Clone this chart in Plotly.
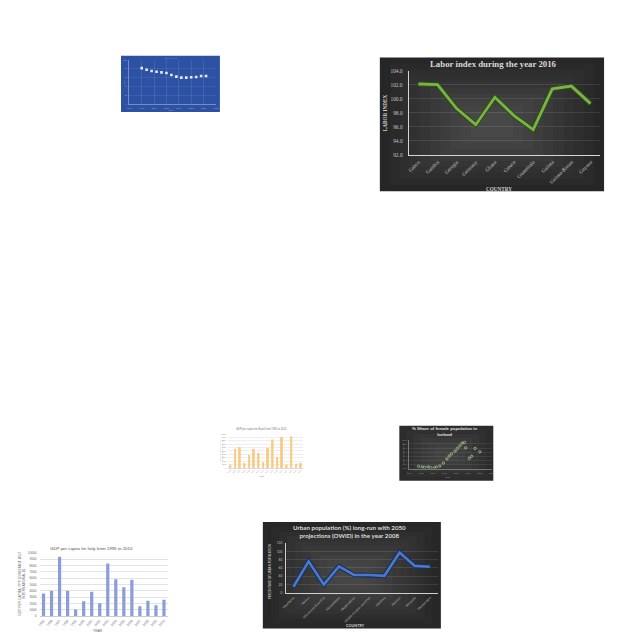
import plotly.graph_objects as go

W = H = 640

def X(a, b):
    return [a / W, b / W]

def Y(t, b):
    return [1 - b / H, 1 - t / H]

def px(x):
    return x / W

def py(y):
    return 1 - y / H

# ---------------- DATA ----------------
# Blue scatter (top-left)
blue_years = [1995, 1997, 1999, 2001, 2003, 2005, 2007, 2009, 2011, 2013, 2015, 2017, 2019, 2021]
blue_values = [81.3, 77.6, 74.7, 73.2, 71.7, 70.2, 65.8, 62.1, 59.9, 59.9, 60.6, 61.4, 63.6, 63.6]

# Labor index (top-right)
labor_countries = ["Gabon", "Gambia", "Georgia", "Germany", "Ghana", "Greece",
                   "Guatemala", "Guinea", "Guinea-Bissau", "Guyana"]
labor_index = [102.1, 102.0, 98.6, 96.3, 100.2, 97.6, 95.6, 101.4, 101.8, 99.3]

# GDP Brazil (yellow bars)
years_95_10 = [str(y) for y in range(1995, 2011)]
brazil_gdp = [970, 5630, 6120, 1460, 3880, 5630, 4370, 1650, 5920, 8350, 3200, 9030, 970, 9320, 1260, 1460]

# Iceland female share (scatter)
ice_years = [1948, 1951, 1953, 1956, 1958, 1961, 1963, 1966, 1969, 1972, 1974, 1976,
             1979, 1981, 1983, 1985, 1987, 1988, 1991, 1993, 1996, 2000]
ice_share = [48.91, 48.88, 48.86, 48.88, 48.85, 48.83, 48.88, 48.93, 49.07, 49.27, 49.41, 49.52,
             49.65, 49.78, 49.91, 50.04, 50.07, 49.81, 49.30, 49.40, 49.78, 49.62]

# GDP Italy (blue bars)
italy_gdp = [3590, 4010, 9370, 4010, 1040, 2340, 3850, 2030, 8330, 5830, 4580, 5730, 1560, 2450, 1720, 2600]

# Urban population (bottom-right)
urban_countries = ["Mauritania", "Mexico", "Micronesia (Country)", "Mozambique", "Middle Africa",
                   "Middle-income countries", "Moldova", "Monaco", "Mongolia", "Montenegro"]
urban_pct = [14.5, 76.0, 20.0, 64.0, 43.0, 43.0, 41.0, 97.6, 65.0, 63.0]

# ---------------- FIGURE ----------------
fig = go.Figure()
shapes = []
ann = []

def hexmix(c1, c2, t):
    a = [int(c1[i:i + 2], 16) for i in (1, 3, 5)]
    b = [int(c2[i:i + 2], 16) for i in (1, 3, 5)]
    m = [round(a[k] + (b[k] - a[k]) * t) for k in range(3)]
    return "#%02x%02x%02x" % tuple(m)

def panel(x0, y0, x1, y1, outer, inner, n=10):
    cx, cy = (x0 + x1) / 2, (y0 + y1) / 2
    for i in range(n):
        t = i / n
        shapes.append(dict(type="rect", xref="paper", yref="paper", layer="below",
                           x0=px(x0 + (cx - x0) * t * 0.9), x1=px(x1 - (x1 - cx) * t * 0.9),
                           y0=py(y1 - (y1 - cy) * t * 0.9), y1=py(y0 + (cy - y0) * t * 0.9),
                           line=dict(width=0), fillcolor=hexmix(outer, inner, t)))

def text(x, y, s, size, color, family="Liberation Sans", bold=False, angle=0):
    ann.append(dict(x=px(x), y=py(y), xref="paper", yref="paper", text=("<b>%s</b>" % s) if bold else s,
                    showarrow=False, textangle=angle, xanchor="center", yanchor="middle",
                    font=dict(size=size, color=color, family=family)))

# ---- Panel 1: blue scatter ----
shapes.append(dict(type="rect", xref="paper", yref="paper", layer="below",
                   x0=px(118.3), x1=px(218.3), y0=py(110), y1=py(53.3),
                   line=dict(width=0), fillcolor="#2d51a3"))
fig.add_trace(go.Scatter(x=blue_years, y=blue_values, mode="markers", xaxis="x", yaxis="y",
                         marker=dict(symbol="square", size=2.6, color="#e4ebf8"), showlegend=False))
text(168, 55.5, "Value by year", 2.2, "rgba(255,255,255,0.45)")
text(122, 80, "Value", 2.2, "rgba(255,255,255,0.45)", angle=-90)
text(168, 108.3, "Year", 2.2, "rgba(255,255,255,0.6)")

# ---- Panel 2: labor index ----
panel(380, 55, 606.7, 190, "#262626", "#4c4c4c")
fig.add_trace(go.Scatter(x=labor_countries, y=labor_index, mode="lines", xaxis="x2", yaxis="y2",
                         line=dict(color="#2c4d14", width=5), showlegend=False))
fig.add_trace(go.Scatter(x=labor_countries, y=labor_index, mode="lines", xaxis="x2", yaxis="y2",
                         line=dict(color="#7cb048", width=2.8), showlegend=False))
text(495, 61.5, "Labor index during the year 2016", 8.8, "#d9d9d9", family="Liberation Serif", bold=True)
text(500, 187.5, "COUNTRY", 5.2, "#d0d0d0", family="Liberation Serif", bold=True)
text(385.5, 111, "LABOR INDEX", 5.2, "#d0d0d0", family="Liberation Serif", bold=True, angle=-90)

# ---- Panel 3: Brazil GDP (yellow) ----
fig.add_trace(go.Bar(x=years_95_10, y=brazil_gdp, xaxis="x3", yaxis="y3",
                     marker=dict(color="#f8cb83", line=dict(width=0)), showlegend=False))
text(260, 430, "GDP per capita for Brazil from 1995 to 2010", 2.6, "#777777")
text(219, 452, "GDP PER CAPITA, PPP<br>(CONSTANT 2017 INTL $)", 1.8, "#888888", angle=-90)
text(260, 478.3, "Year", 2.4, "#777777")

# ---- Panel 4: Iceland ----
panel(399.7, 426.7, 494.7, 482.3, "#2c2c2c", "#474747", n=6)
fig.add_trace(go.Scatter(x=ice_years, y=ice_share, mode="markers", xaxis="x4", yaxis="y4",
                         marker=dict(symbol="circle-open", size=2.4, color="#b5d99a", line=dict(width=0.7)),
                         showlegend=False))
text(446, 432.5, "% Share of female population in<br>Iceland", 4.3, "#e0e0e0", bold=True)
text(448, 479.3, "Year", 2.4, "#aaaaaa")
text(403.5, 455, "% Share of female population", 1.8, "#999999", angle=-90)

# ---- Panel 5: Italy GDP ----
fig.add_trace(go.Bar(x=years_95_10, y=italy_gdp, xaxis="x5", yaxis="y5",
                     marker=dict(color="#8b9dd8", line=dict(width=0)), showlegend=False))
text(88, 550.3, "GDP per capita for Italy from 1995 to 2010", 4.4, "#555555")
text(18, 586.5, "GDP PER CAPITA, PPP (CONSTANT 2017<br>INTERNATIONAL $)", 3.3, "#666666", angle=-90)
text(95, 633.5, "YEAR", 3.4, "#666666")

# ---- Panel 6: Urban ----
panel(261.7, 524, 441.7, 631.3, "#272727", "#4a4a4a")
fig.add_trace(go.Scatter(x=urban_countries, y=urban_pct, mode="lines", xaxis="x6", yaxis="y6",
                         line=dict(color="#1b2f57", width=4.8), showlegend=False))
fig.add_trace(go.Scatter(x=urban_countries, y=urban_pct, mode="lines", xaxis="x6", yaxis="y6",
                         line=dict(color="#4a78cc", width=2.6), showlegend=False))
text(349, 534, "Urban population (%) long-run with 2050<br>projections (OWID) in the year 2008",
     6.2, "#d9d9d9", family="Lato", bold=True)
text(355, 628, "COUNTRY", 3.8, "#cfcfcf", family="Lato", bold=True)
text(268.3, 573, "PERCENTAGE OF URBAN POPULATION", 3.0, "#bfbfbf", family="Lato", bold=True, angle=-90)

# ---------------- AXES ----------------
def ax(domain, anchor, **kw):
    d = dict(domain=domain, anchor=anchor, zeroline=False, fixedrange=True)
    d.update(kw)
    return d

layout_axes = dict(
    # Panel 1
    xaxis=ax(X(126.7, 214.3), "y", range=[1990, 2025], dtick=5, showgrid=True,
             gridcolor="rgba(255,255,255,0.10)", showline=True, linecolor="rgba(255,255,255,0.35)",
             ticks="", tickfont=dict(size=2.2, color="rgba(255,255,255,0.5)"), ticklabelstandoff=1),
    yaxis=ax(Y(57.3, 102.3), "x", range=[0, 100], dtick=20, showgrid=True,
             gridcolor="rgba(255,255,255,0.08)", showline=True, linecolor="rgba(255,255,255,0.35)",
             ticks="", tickfont=dict(size=2.2, color="rgba(255,255,255,0.5)"), ticklabelstandoff=1),
    # Panel 2
    xaxis2=ax(X(409.3, 602.7), "y2", type="category", range=[-0.5, 9.5], showgrid=False,
              showline=True, linecolor="#d6d6d6", linewidth=1.3, ticks="", tickangle=-45,
              tickfont=dict(size=5.2, color="#c4c4c4", family="Liberation Serif"), ticklabelstandoff=1),
    yaxis2=ax(Y(68.3, 153.3), "x2", range=[92, 104], dtick=2, tickformat=".1f", showgrid=True,
              gridcolor="rgba(255,255,255,0.10)", showline=True, linecolor="#d6d6d6", linewidth=1.3,
              ticks="", tickfont=dict(size=5.4, color="#c4c4c4", family="Liberation Serif"), ticklabelstandoff=4),
    # Panel 3
    xaxis3=ax(X(226.6, 302.4), "y3", type="category", range=[-0.5, 15.5], showgrid=False,
              showline=True, linecolor="#d9d9d9", linewidth=0.5, ticks="", tickangle=-45,
              tickfont=dict(size=1.8, color="#888888"), ticklabelstandoff=0),
    yaxis3=ax(Y(435, 469.3), "x3", range=[0, 10000], dtick=1000, tickformat="d", showgrid=True,
              gridcolor="#eeeeee", showline=False, ticks="", tickfont=dict(size=1.8, color="#888888"),
              ticklabelstandoff=1),
    # Panel 4
    xaxis4=ax(X(409.7, 493), "y4", range=[1940, 2010], dtick=10, showgrid=False,
              showline=True, linecolor="rgba(255,255,255,0.35)", ticks="",
              tickfont=dict(size=2.2, color="#9a9a9a"), ticklabelstandoff=2),
    yaxis4=ax(Y(441, 470), "x4", range=[48.8, 50.2], dtick=0.2, tickformat=".1f", showgrid=True,
              gridcolor="rgba(255,255,255,0.08)", showline=True, linecolor="rgba(255,255,255,0.35)",
              ticks="", tickfont=dict(size=2.2, color="#9a9a9a"), ticklabelstandoff=1),
    # Panel 5
    xaxis5=ax(X(35.9, 165.8), "y5", type="category", range=[-0.5, 15.5], showgrid=False,
              showline=True, linecolor="#cccccc", linewidth=0.6, ticks="", tickangle=-45,
              tickfont=dict(size=3.2, color="#666666"), ticklabelstandoff=1),
    yaxis5=ax(Y(555, 619), "x5", range=[0, 10000], dtick=1000, tickformat="d", showgrid=True,
              gridcolor="#e3e3e3", showline=False, ticks="", tickfont=dict(size=3.2, color="#666666"),
              ticklabelstandoff=2),
    # Panel 6
    xaxis6=ax(X(285, 438.3), "y6", type="category", range=[-0.5, 9.5], showgrid=False,
              showline=True, linecolor="#d0d0d0", linewidth=1, ticks="", tickangle=-45,
              tickfont=dict(size=3.2, color="#bdbdbd", family="Lato"), ticklabelstandoff=1),
    yaxis6=ax(Y(545.3, 595.3), "x6", range=[0, 120], dtick=20, showgrid=True,
              gridcolor="rgba(255,255,255,0.10)", showline=True, linecolor="#d0d0d0", linewidth=1,
              ticks="", tickfont=dict(size=3.2, color="#bdbdbd", family="Lato"), ticklabelstandoff=2),
)

fig.update_layout(
    width=W, height=H, autosize=False,
    margin=dict(l=0, r=0, t=0, b=0, pad=0),
    paper_bgcolor="white", plot_bgcolor="rgba(0,0,0,0)",
    showlegend=False, bargap=0.6,
    shapes=shapes, annotations=ann,
    font=dict(family="Liberation Sans"),
    **layout_axes,
)

fig.write_html("out.html", config={"displayModeBar": False})
